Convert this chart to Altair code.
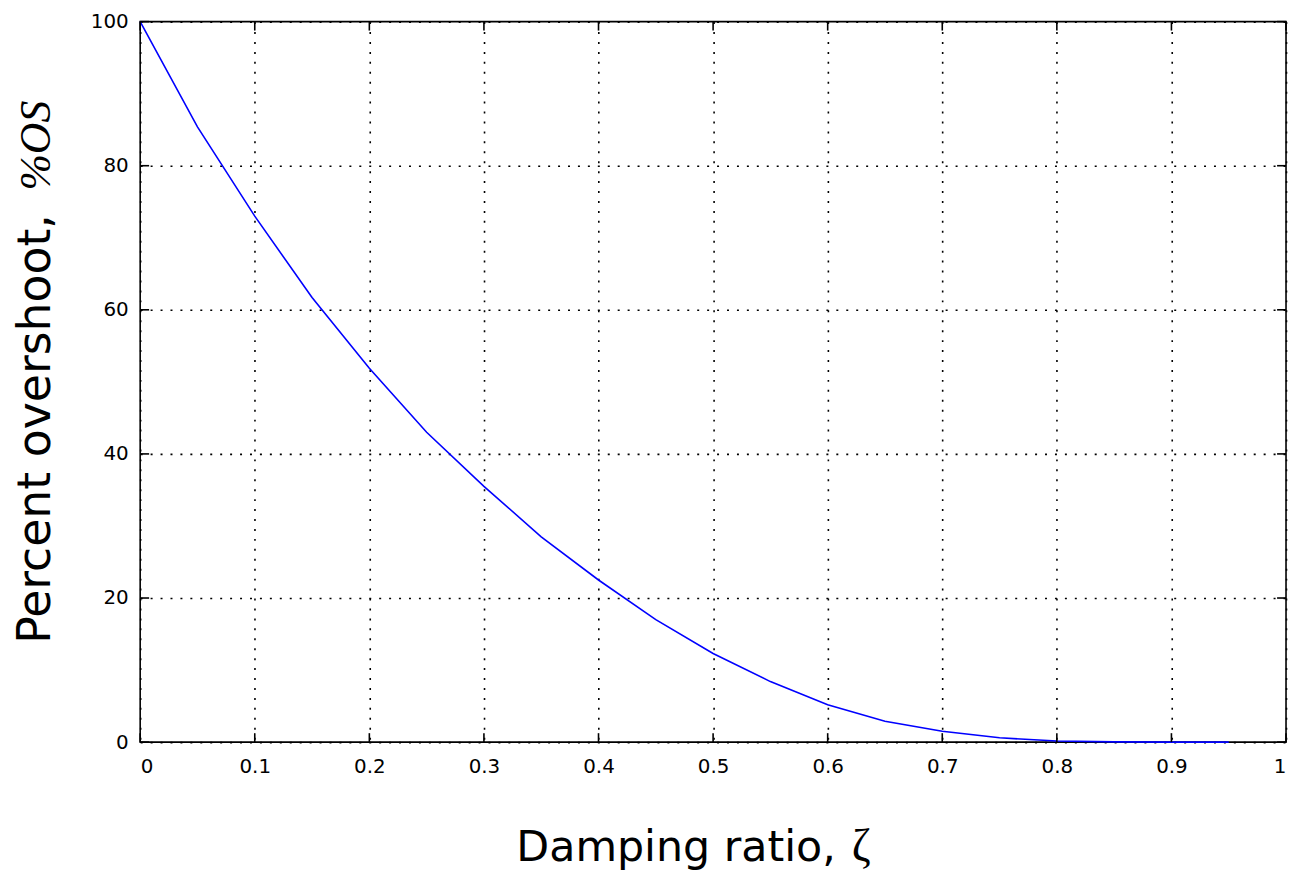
import altair as alt
import pandas as pd

# ---- data ----
zeta = [0.0, 0.05, 0.10, 0.15, 0.20, 0.25, 0.30, 0.35, 0.40, 0.45,
        0.50, 0.55, 0.60, 0.65, 0.70, 0.75, 0.80, 0.85, 0.90, 0.95]
overshoot = [100.0, 85.4, 73.0, 61.7, 51.9, 43.0, 35.5, 28.5, 22.5, 17.0,
             12.3, 8.4, 5.2, 2.9, 1.5, 0.6, 0.15, 0.03, 0.0, 0.0]
x_ticks = [0, 0.1, 0.2, 0.3, 0.4, 0.5, 0.6, 0.7, 0.8, 0.9, 1]
y_ticks = [0, 20, 40, 60, 80, 100]
x_title = "Damping ratio,"
x_symbol = "ζ"
y_title = "Percent overshoot,"
y_symbol = "%OS"

W, H = 1153, 725
TICK = 9
SANS = "DejaVu Sans"
SERIF = "Liberation Serif"

df = pd.DataFrame({"zeta": zeta, "os": overshoot})
xt = pd.DataFrame({"zeta": x_ticks})
yt = pd.DataFrame({"os": y_ticks})
one = pd.DataFrame({"k": [0]})

xscale = alt.Scale(domain=[0, 1], nice=False, zero=False)
yscale = alt.Scale(domain=[0, 100], nice=False, zero=False)

xaxis = alt.Axis(values=x_ticks, format="~r", title=None, domain=False, ticks=False,
                 labelFont=SANS, labelFontSize=20, labelColor="black", labelPadding=15,
                 grid=True, gridColor="black", gridDash=[2, 8], gridWidth=1.6, gridOpacity=1)
yaxis = alt.Axis(values=y_ticks, format="~r", title=None, domain=False, ticks=False,
                 labelFont=SANS, labelFontSize=20, labelColor="black", labelPadding=12,
                 grid=True, gridColor="black", gridDash=[2, 8], gridWidth=1.6, gridOpacity=1)

line = alt.Chart(df).mark_line(color="#0000ff", strokeWidth=1.6).encode(
    x=alt.X("zeta:Q", scale=xscale, axis=xaxis),
    y=alt.Y("os:Q", scale=yscale, axis=yaxis),
)

tick_style = dict(color="black", strokeWidth=1.6)
bottom_ticks = alt.Chart(xt).mark_rule(**tick_style).encode(
    x=alt.X("zeta:Q", scale=xscale), y=alt.value(H), y2=alt.value(H - TICK))
top_ticks = alt.Chart(xt).mark_rule(**tick_style).encode(
    x=alt.X("zeta:Q", scale=xscale), y=alt.value(0), y2=alt.value(TICK))
left_ticks = alt.Chart(yt).mark_rule(**tick_style).encode(
    y=alt.Y("os:Q", scale=yscale), x=alt.value(0), x2=alt.value(TICK))
right_ticks = alt.Chart(yt).mark_rule(**tick_style).encode(
    y=alt.Y("os:Q", scale=yscale), x=alt.value(W), x2=alt.value(W - TICK))

xt1 = alt.Chart(one).mark_text(font=SANS, fontSize=43, align="right", baseline="alphabetic",
                               color="black").encode(
    x=alt.value(700), y=alt.value(845), text=alt.value(x_title))
xt2 = alt.Chart(one).mark_text(font=SERIF, fontSize=46, align="left", baseline="alphabetic",
                               color="black").encode(
    x=alt.value(716), y=alt.value(845), text=alt.value(x_symbol))
yt1 = alt.Chart(one).mark_text(font=SANS, fontSize=46, align="left", baseline="alphabetic",
                               angle=270, color="black").encode(
    x=alt.value(-91), y=alt.value(626), text=alt.value(y_title))
yt2 = alt.Chart(one).mark_text(font=SERIF, fontSize=44, fontStyle="italic", align="left",
                               baseline="alphabetic", angle=270, color="black").encode(
    x=alt.value(-91), y=alt.value(170), text=alt.value(y_symbol))

chart = alt.layer(
    line, bottom_ticks, top_ticks, left_ticks, right_ticks, xt1, xt2, yt1, yt2
).properties(
    width=W, height=H,
    autosize=alt.AutoSizeParams(type="none"),
    padding={"left": 133, "top": 11, "right": 3, "bottom": 129},
    background="white",
).configure_view(stroke="black", strokeWidth=1.6)

chart.save("out.html", embed_options={"renderer": "svg", "actions": False})
